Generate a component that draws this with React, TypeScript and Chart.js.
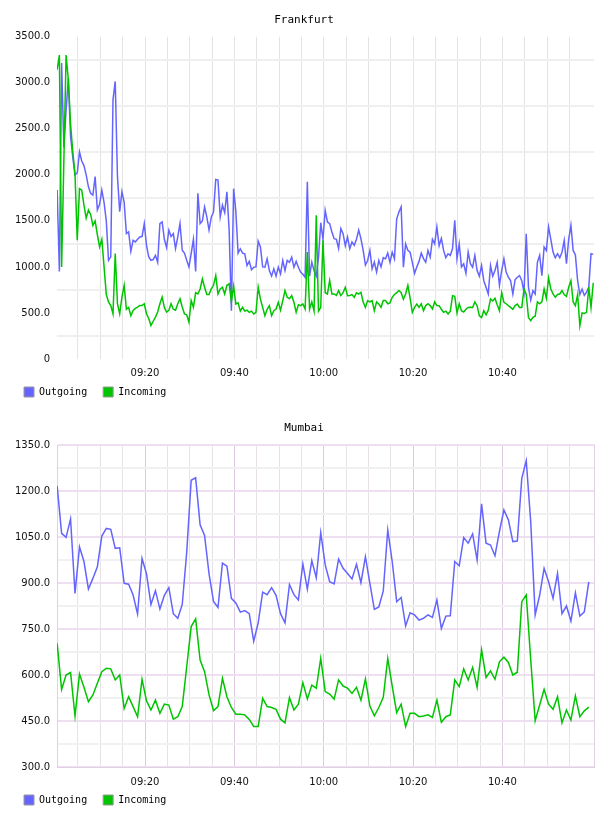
import React, { useEffect, useRef } from 'react';
import { Chart, registerables } from 'chart.js';

Chart.register(...registerables);

// ---- time axis (minutes after 09:00) ----
const xGridTimes = [5, 10, 15, 20, 25, 30, 35, 40, 45, 50, 55, 60, 65, 70, 75, 80, 85, 90, 95, 100, 105, 110, 115];
const xTickTimes = [20, 40, 60, 80, 100];
const xTickLabels = ['09:20', '09:40', '10:00', '10:20', '10:40'];
const xMinTime = 0.3;
const xMaxTime = 120.5;

// ---- Frankfurt (one sample every 30 s from 09:00:20) ----
const frankfurtStart = 1 / 3;
const frankfurtStep = 0.5;
const frankfurtYTicks = [0, 500, 1000, 1500, 2000, 2500, 3000, 3500];
const frankfurtYLabels = ['0', '500.0', '1000.0', '1500.0', '2000.0', '2500.0', '3000.0', '3500.0'];
const frankfurtOutgoing = [
  1834, 950, 3214, 2300, 2700, 3050, 2420, 2190, 2000, 2020,
  2250, 2150, 2100, 2000, 1870, 1800, 1780, 1980, 1620, 1680,
  1834, 1700, 1500, 1072, 1110, 2814, 3014, 1980, 1600, 1816,
  1700, 1362, 1380, 1170, 1290, 1272, 1300, 1326, 1330, 1471,
  1235, 1108, 1072, 1080, 1126, 1050, 1471, 1489, 1300, 1210,
  1399, 1330, 1362, 1200, 1326, 1471, 1181, 1150, 1072, 1000,
  1143, 1300, 950, 1800, 1470, 1500, 1650, 1543, 1400, 1540,
  1597, 1950, 1943, 1543, 1670, 1590, 1815, 1400, 525, 1850,
  1600, 1150, 1197, 1150, 1143, 1015, 1060, 970, 997, 1000,
  1280, 1216, 1000, 997, 1088, 960, 900, 979, 900, 997,
  925, 1070, 961, 1070, 1050, 1106, 997, 1060, 997, 943,
  920, 888, 1925, 900, 1052, 960, 900, 1100, 1480, 1300,
  1615, 1488, 1470, 1380, 1306, 1300, 1200, 1416, 1361, 1230,
  1325, 1197, 1270, 1234, 1300, 1400, 1306, 1180, 1020, 1070,
  1180, 980, 1052, 943, 1070, 1000, 1100, 1088, 1150, 1050,
  1160, 1088, 1520, 1597, 1652, 997, 1250, 1180, 1161, 1050,
  930, 1000, 1060, 1150, 1090, 1050, 1179, 1106, 1300, 1250,
  1434, 1230, 1310, 1179, 1100, 1143, 1125, 1200, 1506, 1088,
  1250, 1000, 1034, 930, 1161, 1034, 997, 1125, 961, 900,
  1015, 850, 779, 706, 1015, 900, 961, 1050, 800, 961,
  1088, 945, 888, 850, 706, 860, 888, 906, 850, 725,
  1361, 779, 640, 743, 706, 1050, 1125, 906, 1216, 1179,
  1434, 1300, 1161, 1100, 1143, 1100, 1160, 1288, 1034, 1300,
  1452, 1179, 1130, 850, 700, 760, 690, 725, 780, 1143,
  1136,
];
const frankfurtIncoming = [
  3141, 3300, 1000, 2150, 3300, 3032, 2550, 2250, 2000, 1290,
  1850, 1834, 1670, 1530, 1617, 1570, 1450, 1500, 1350, 1217,
  1300, 1000, 700, 620, 580, 491, 1145, 600, 491, 673,
  800, 540, 560, 470, 528, 550, 564, 582, 580, 600,
  491, 440, 364, 410, 455, 510, 600, 673, 560, 510,
  528, 600, 540, 530, 600, 655, 564, 490, 480, 400,
  634, 561, 720, 706, 760, 870, 779, 700, 700, 761,
  800, 906, 706, 760, 779, 706, 800, 816, 620, 790,
  597, 610, 520, 561, 520, 530, 507, 520, 490, 507,
  779, 650, 561, 470, 540, 579, 470, 525, 543, 616,
  530, 634, 743, 670, 655, 688, 616, 507, 590, 579,
  597, 543, 1161, 540, 620, 520, 1561, 520, 560, 1290,
  720, 706, 852, 706, 706, 690, 743, 688, 720, 779,
  688, 690, 700, 670, 720, 706, 725, 620, 560, 634,
  620, 634, 525, 620, 597, 561, 634, 634, 600, 610,
  670, 700, 720, 743, 720, 650, 706, 800, 660, 507,
  560, 597, 561, 600, 525, 580, 600, 580, 543, 620,
  580, 579, 540, 507, 520, 488, 520, 688, 680, 500,
  600, 525, 510, 540, 560, 561, 560, 620, 579, 470,
  450, 525, 480, 530, 652, 630, 660, 590, 525, 720,
  616, 600, 580, 561, 540, 580, 597, 560, 560, 760,
  700, 450, 416, 452, 465, 620, 600, 620, 760, 660,
  880, 760, 706, 670, 700, 706, 743, 700, 680, 779,
  850, 620, 579, 700, 360, 500, 495, 507, 780, 560,
  826,
];

// ---- Mumbai (one sample per minute from 09:00:20) ----
const mumbaiStart = 1 / 3;
const mumbaiStep = 1;
const mumbaiYTicks = [300, 450, 600, 750, 900, 1050, 1200, 1350];
const mumbaiYLabels = ['300.0', '450.0', '600.0', '750.0', '900.0', '1050.0', '1200.0', '1350.0'];
const mumbaiOutgoing = [
  1216, 1062, 1049, 1109, 866, 1018, 970, 880, 915, 953,
  1053, 1078, 1075, 1013, 1015, 899, 896, 861, 799, 980,
  930, 830, 875, 815, 860, 885, 800, 785, 830, 1000,
  1235, 1243, 1090, 1055, 930, 840, 820, 965, 955, 850,
  835, 805, 810, 800, 710, 770, 870, 862, 885, 860,
  800, 770, 895, 862, 845, 962, 880, 973, 917, 1064,
  959, 904, 897, 978, 948, 931, 913, 961, 901, 986,
  899, 814, 822, 874, 1073, 970, 839, 853, 760, 803,
  796, 779, 785, 796, 788, 845, 752, 792, 793, 970,
  956, 1048, 1030, 1060, 975, 1158, 1030, 1024, 989, 1068,
  1138, 1106, 1035, 1037, 1241, 1299, 1100, 796, 860, 948,
  904, 850, 931, 800, 825, 776, 868, 792, 806, 904,
];
const mumbaiIncoming = [
  703, 553, 600, 608, 466, 603, 560, 513, 535, 573,
  611, 622, 620, 584, 600, 491, 529, 497, 464, 586,
  516, 486, 518, 475, 505, 502, 456, 464, 497, 627,
  758, 783, 649, 611, 535, 484, 497, 589, 529, 494,
  472, 472, 470, 455, 432, 432, 524, 497, 494, 488,
  456, 444, 526, 486, 505, 575, 522, 567, 557, 654,
  546, 538, 521, 584, 564, 557, 540, 560, 518, 587,
  499, 467, 494, 527, 654, 564, 477, 505, 432, 475,
  475, 464, 466, 470, 462, 518, 446, 464, 470, 584,
  562, 620, 584, 625, 560, 682, 592, 613, 586, 643,
  658, 641, 600, 609, 839, 861, 650, 451, 502, 553,
  505, 488, 529, 444, 486, 453, 532, 464, 483, 495,
];

const OUT_COLOR = '#6464ff';
const IN_COLOR = '#00c400';
const PINK_H = '#eedff0';
const PINK_V = '#dcc8df';
const PINK_BORDER = '#e2cfe5';

type ChartSpec = {
  title: string;
  out: number[];
  inc: number[];
  start: number;
  step: number;
  yTicks: number[];
  yLabels: string[];
  height: number;
  titlePad: { top: number; bottom: number };
  xLabelPad: number;
  bottomPad: number;
  framed: boolean;
};

function toPoints(vals: number[], start: number, step: number) {
  return vals.map((v, i) => ({ x: start + i * step, y: v }));
}

function buildConfig(spec: ChartSpec): any {
  const { yTicks, yLabels, framed } = spec;
  const yMin = yTicks[0];
  const yMax = yTicks[yTicks.length - 1];
  const yGrid: number[] = [];
  yTicks.forEach((v, i) => {
    yGrid.push(v);
    if (i < yTicks.length - 1) yGrid.push((v + yTicks[i + 1]) / 2);
  });
  const xGrid = framed ? [xMinTime, ...xGridTimes, xMaxTime] : xGridTimes;
  const tickFont = { family: 'DejaVu Sans', size: 10 };

  return {
    type: 'line',
    data: {
      datasets: [
        {
          label: 'Outgoing',
          data: toPoints(spec.out, spec.start, spec.step),
          borderColor: OUT_COLOR,
          backgroundColor: OUT_COLOR,
          borderWidth: 1.5,
          pointRadius: 0,
          tension: 0,
          fill: false,
          order: 1,
        },
        {
          label: 'Incoming',
          data: toPoints(spec.inc, spec.start, spec.step),
          borderColor: IN_COLOR,
          backgroundColor: IN_COLOR,
          borderWidth: 1.5,
          pointRadius: 0,
          tension: 0,
          fill: false,
          order: 0,
        },
      ],
    },
    options: {
      animation: false,
      responsive: false,
      devicePixelRatio: 1,
      events: [],
      layout: { padding: { left: 8, right: 8, top: 0, bottom: spec.bottomPad } },
      plugins: {
        tooltip: { enabled: false },
        title: {
          display: true,
          text: spec.title,
          color: '#000',
          font: { family: 'DejaVu Sans Mono', size: 11, weight: 'normal' },
          padding: spec.titlePad,
        },
        legend: {
          display: true,
          position: 'bottom',
          align: 'start',
          maxHeight: 30,
          labels: {
            boxWidth: 10,
            boxHeight: 10,
            padding: 16,
            color: '#000',
            font: { family: 'DejaVu Sans Mono', size: 10 },
            generateLabels: (chart: any) =>
              chart.data.datasets.map((ds: any, i: number) => ({
                text: ds.label,
                fillStyle: ds.borderColor,
                strokeStyle: '#999999',
                lineWidth: 1,
                hidden: false,
                datasetIndex: i,
              })),
          },
        },
      },
      scales: {
        x: {
          type: 'linear',
          min: xMinTime,
          max: xMaxTime,
          afterBuildTicks: (s: any) => {
            s.ticks = xGrid.map((v) => ({ value: v }));
          },
          afterFit: (s: any) => {
            s.height = 12;
            s.paddingRight = 14;
            s.paddingLeft = 0;
            // let the time labels extend below the thin axis box
            s._computeLabelArea = () => undefined;
          },
          ticks: {
            autoSkip: false,
            maxRotation: 0,
            minRotation: 0,
            padding: spec.xLabelPad,
            color: '#111',
            font: tickFont,
            callback: (v: number) => {
              const k = xTickTimes.indexOf(v);
              return k >= 0 ? xTickLabels[k] : '';
            },
          },
          grid: {
            drawTicks: false,
            lineWidth: 1,
            color: (ctx: any) => {
              const v = ctx.tick ? ctx.tick.value : 0;
              if (!framed) return '#e4e4e4';
              if (v === xMinTime || v === xMaxTime) return PINK_BORDER;
              return xTickTimes.includes(v) ? PINK_V : '#e8e2e8';
            },
          },
          border: { display: framed, color: PINK_BORDER, width: 1 },
        },
        y: {
          type: 'linear',
          min: yMin,
          max: yMax,
          afterBuildTicks: (s: any) => {
            s.ticks = yGrid.map((v) => ({ value: v }));
          },
          afterFit: (s: any) => {
            s.width = 49;
          },
          ticks: {
            autoSkip: false,
            padding: 7,
            color: '#111',
            font: tickFont,
            callback: (v: number) => {
              const k = yTicks.indexOf(v);
              return k >= 0 ? yLabels[k] : '';
            },
          },
          grid: {
            drawTicks: false,
            lineWidth: 2,
            color: (ctx: any) => {
              const v = ctx.tick ? ctx.tick.value : 0;
              const major = yTicks.includes(v);
              if (!framed) return major ? 'rgba(0,0,0,0)' : '#efefef';
              return major ? PINK_H : '#f1f1f1';
            },
          },
          border: { display: framed, color: PINK_BORDER, width: 1 },
        },
      },
    },
  };
}

const frankfurtSpec: ChartSpec = {
  title: 'Frankfurt',
  out: frankfurtOutgoing,
  inc: frankfurtIncoming,
  start: frankfurtStart,
  step: frankfurtStep,
  yTicks: frankfurtYTicks,
  yLabels: frankfurtYLabels,
  height: 405,
  titlePad: { top: 13.5, bottom: 10 },
  xLabelPad: 8,
  bottomPad: 4,
  framed: false,
};

const mumbaiSpec: ChartSpec = {
  title: 'Mumbai',
  out: mumbaiOutgoing,
  inc: mumbaiIncoming,
  start: mumbaiStart,
  step: mumbaiStep,
  yTicks: mumbaiYTicks,
  yLabels: mumbaiYLabels,
  height: 411,
  titlePad: { top: 16.4, bottom: 10.4 },
  xLabelPad: 9,
  bottomPad: 7,
  framed: true,
};

function TrafficChart({ spec, top }: { spec: ChartSpec; top: number }) {
  const ref = useRef<HTMLCanvasElement | null>(null);
  useEffect(() => {
    if (!ref.current) return;
    const chart = new Chart(ref.current, buildConfig(spec));
    return () => chart.destroy();
  }, [spec]);
  return (
    <canvas
      ref={ref}
      width={608}
      height={spec.height}
      style={{ position: 'absolute', left: 0, top, width: 608, height: spec.height, display: 'block' }}
    />
  );
}

export default function App() {
  return (
    <div style={{ position: 'absolute', left: 0, top: 0, width: 608, height: 816, background: '#fff' }}>
      <TrafficChart spec={frankfurtSpec} top={0} />
      <TrafficChart spec={mumbaiSpec} top={405} />
    </div>
  );
}
